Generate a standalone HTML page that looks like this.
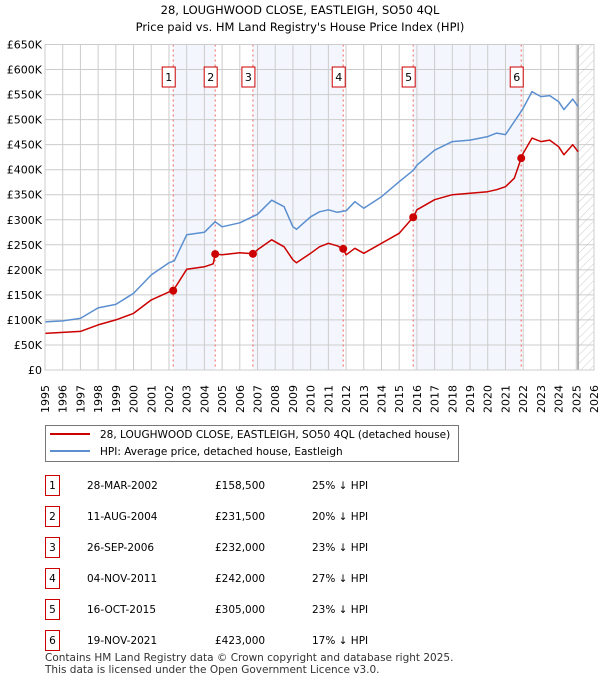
<!DOCTYPE html>
<html><head><meta charset="utf-8"><style>
body{margin:0;background:#fff;font-family:"DejaVu Sans","Liberation Sans",sans-serif;}
svg text{font-family:"DejaVu Sans","Liberation Sans",sans-serif;}
</style></head><body>
<svg id="c" width="600" height="680" xmlns="http://www.w3.org/2000/svg">
<defs><pattern id="hatch" width="6" height="6" patternUnits="userSpaceOnUse" patternTransform="rotate(45)"><line x1="0" y1="0" x2="0" y2="6" stroke="#ccc" stroke-width="1"/></pattern></defs>
<text x="300" y="14" text-anchor="middle" font-size="11.5">28, LOUGHWOOD CLOSE, EASTLEIGH, SO50 4QL</text>
<text x="300" y="31" text-anchor="middle" font-size="11.5">Price paid vs. HM Land Registry's House Price Index (HPI)</text>
<g id="plot"></g>
<g>
<rect x="45.5" y="425.5" width="413" height="36" fill="#fff" stroke="#777"/>
<line x1="50" y1="434" x2="90" y2="434" stroke="#cc0000" stroke-width="2"/>
<text x="100" y="438" font-size="10.5">28, LOUGHWOOD CLOSE, EASTLEIGH, SO50 4QL (detached house)</text>
<line x1="50" y1="451" x2="90" y2="451" stroke="#5b8fd0" stroke-width="2"/>
<text x="100" y="455" font-size="10.5">HPI: Average price, detached house, Eastleigh</text>
</g>
<g id="table"></g>
<text x="45" y="661" font-size="10.5" fill="#333">Contains HM Land Registry data © Crown copyright and database right 2025.</text>
<text x="45" y="673" font-size="10.5" fill="#333">This data is licensed under the Open Government Licence v3.0.</text>
</svg>
<script>
const hpiYears=[1995,1996,1997,1998,1999,2000,2001,2002,2002.3,2003,2004,2004.6,2005,2006,2007,2007.8,2008.5,2009,2009.2,2010,2010.5,2011,2011.5,2012,2012.5,2013,2014,2015,2015.8,2016,2017,2018,2019,2020,2020.5,2021,2021.9,2022,2022.5,2023,2023.5,2024,2024.3,2024.8,2025.1];
const hpiValues=[96,98,103,124,131,153,190,214,218,270,275,296,286,294,311,339,326,286,281,306,316,320,315,318,336,323,346,376,399,409,439,456,459,466,473,470,517,523,556,546,548,536,520,541,526];
const redYears=[1995,1996,1997,1998,1999,2000,2001,2002,2002.24,2003,2004,2004.5,2004.61,2005,2006,2006.74,2007,2007.8,2008.5,2009,2009.2,2010,2010.5,2011,2011.5,2011.84,2012,2012.5,2013,2014,2015,2015.79,2016,2017,2018,2019,2020,2020.5,2021,2021.5,2021.89,2022,2022.5,2023,2023.5,2024,2024.3,2024.8,2025.1];
const redValues=[73,75,77,90,100,113,140,156,158.5,201,206,212,231.5,230,234,232,240,260,246,220,214,233,246,253,248,242,230,243,233,253,273,305,320,340,350,353,356,360,366,383,423,433,463,456,459,446,430,450,436];
const saleIds=["1","2","3","4","5","6"];
const saleYears=[2002.24,2004.61,2006.74,2011.84,2015.79,2021.89];
const saleValues=[158.5,231.5,232,242,305,423];
const saleDates=["28-MAR-2002","11-AUG-2004","26-SEP-2006","04-NOV-2011","16-OCT-2015","19-NOV-2021"];
const salePrices=["£158,500","£231,500","£232,000","£242,000","£305,000","£423,000"];
const saleDiffs=["25% ↓ HPI","20% ↓ HPI","23% ↓ HPI","27% ↓ HPI","23% ↓ HPI","17% ↓ HPI"];
const yTicks=[0,50,100,150,200,250,300,350,400,450,500,550,600,650];
const yTickLabels=["£0","£50K","£100K","£150K","£200K","£250K","£300K","£350K","£400K","£450K","£500K","£550K","£600K","£650K"];
const xTicks=[1995,1996,1997,1998,1999,2000,2001,2002,2003,2004,2005,2006,2007,2008,2009,2010,2011,2012,2013,2014,2015,2016,2017,2018,2019,2020,2021,2022,2023,2024,2025,2026];
const dataEnd=2025.1;
const X0=45,X1=594,Y0=370,Y1=44.5;
const xs=y=>X0+(y-1995)/(2026-1995)*(X1-X0);
const ys=v=>Y0-v/650*(Y0-Y1);
const NS="http://www.w3.org/2000/svg";
const plot=document.getElementById('plot');
function mk(tag,attrs,parent){const e=document.createElementNS(NS,tag);for(const k in attrs)e.setAttribute(k,attrs[k]);(parent||plot).appendChild(e);return e;}
for(let i=0;i<saleYears.length;i+=2){const a=saleYears[i],b=saleYears[i+1];
 const r=mk('rect',{x:xs(a),y:Y1,width:xs(b)-xs(a),height:Y0-Y1,fill:'#eef3fc',opacity:0.7});
 
 }
const h=mk('rect',{x:xs(dataEnd),y:Y1,width:X1-xs(dataEnd),height:Y0-Y1,fill:'url(#hatch)'});


yTicks.forEach((t,i)=>{const g=mk('line',{x1:X0,x2:X1,y1:ys(t),y2:ys(t),stroke:'#ccc'});
 
 
 const l=mk('text',{x:X0-3,y:ys(t)+4,'text-anchor':'end','font-size':11});l.textContent=yTickLabels[i];
 
 });
xTicks.forEach(t=>{const g=mk('line',{x1:xs(t),x2:xs(t),y1:Y1,y2:Y0,stroke:'#ccc'});
 
 
 const l=mk('text',{x:0,y:0,'font-size':11,transform:`translate(${xs(t)+4},${Y0+43}) rotate(-90)`});l.textContent=t;
 
 });
const el=mk('line',{x1:xs(dataEnd),x2:xs(dataEnd),y1:Y1,y2:Y0,stroke:'#999','stroke-width':1.5});


saleYears.forEach((y,i)=>{const v=mk('line',{x1:xs(y),x2:xs(y),y1:Y1,y2:Y0,stroke:'#f06060','stroke-dasharray':'2,3'});
 
 
 const b=mk('rect',{x:xs(y)-11,y:67,width:13,height:20,fill:'#fff',stroke:'#cc0000'});
 
 
 const t=mk('text',{x:xs(y)-4.5,y:81,'text-anchor':'middle','font-size':11});t.textContent=saleIds[i];
 
 });
function line(xa,va,col,name){const d=xa.map((x,i)=>(i?'L':'M')+xs(x).toFixed(1)+','+ys(va[i]).toFixed(1)).join('');
 const p=mk('path',{d:d,fill:'none',stroke:col,'stroke-width':1.5,'stroke-linejoin':'round'});
 
 }
line(hpiYears,hpiValues,'#5b8fd0','hpi-line');
line(redYears,redValues,'#cc0000','price-paid-line');
saleYears.forEach((y,i)=>{const c=mk('circle',{cx:xs(y),cy:ys(saleValues[i]),r:4,fill:'#cc0000'});
 
 });
const bd=mk('rect',{x:X0,y:Y1,width:X1-X0,height:Y0-Y1,fill:'none',stroke:'#ccc'});


const tb=document.getElementById('table');
saleIds.forEach((id,i)=>{const y=475+i*31;
 const g=mk('g',{},tb);
 
 
 mk('rect',{x:45.5,y:y+0.5,width:14,height:20,fill:'#fff',stroke:'#cc0000'},g);
 const cells=[[52.5,id,'middle'],[87,saleDates[i],'start'],[215,salePrices[i],'start'],[312,saleDiffs[i],'start']];
 cells.forEach(c=>{const t=mk('text',{x:c[0],y:y+14,'font-size':10.5,'text-anchor':c[2]},g);t.textContent=c[1];});});
</script>
</body></html>
